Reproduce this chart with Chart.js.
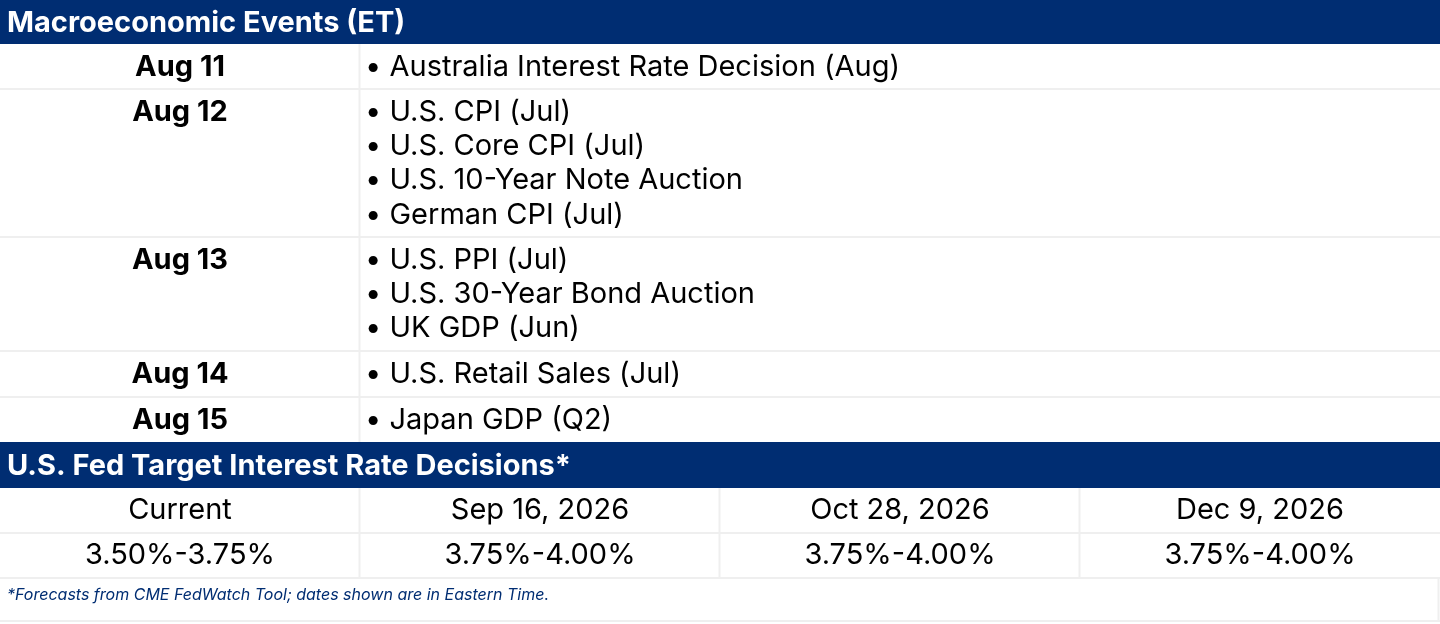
<!DOCTYPE html>
<html>
<head>
<meta charset="utf-8">
<script src="https://cdn.jsdelivr.net/npm/chart.js@4.4.1/dist/chart.umd.min.js"></script>
<style>
html,body{margin:0;padding:0;background:#fff;}
#wrap{width:1440px;height:624px;position:relative;}
</style>
</head>
<body>
<div id="wrap"><canvas id="c" width="1440" height="624"></canvas></div>
<script>
// ---- data ----
const sectionTitles = ["Macroeconomic Events (ET)", "U.S. Fed Target Interest Rate Decisions*"];
const eventDates = ["Aug 11", "Aug 12", "Aug 13", "Aug 14", "Aug 15"];
const eventLists = [
  ["Australia Interest Rate Decision (Aug)"],
  ["U.S. CPI (Jul)", "U.S. Core CPI (Jul)", "U.S. 10-Year Note Auction", "German CPI (Jul)"],
  ["U.S. PPI (Jul)", "U.S. 30-Year Bond Auction", "UK GDP (Jun)"],
  ["U.S. Retail Sales (Jul)"],
  ["Japan GDP (Q2)"]
];
const fedDates = ["Current", "Sep 16, 2026", "Oct 28, 2026", "Dec 9, 2026"];
const fedRates = ["3.50%-3.75%", "3.75%-4.00%", "3.75%-4.00%", "3.75%-4.00%"];
const footnote = "*Forecasts from CME FedWatch Tool; dates shown are in Eastern Time.";

const NAVY = "#002D72";
const GRID = "#efefef";
const FONT = "Inter, 'Noto Sans', sans-serif";

const tablePlugin = {
  id: 'tablePlugin',
  afterDraw(chart) {
    const ctx = chart.ctx;
    const xs = chart.scales.x, ys = chart.scales.y;
    const X = v => xs.getPixelForValue(v);
    const Y = v => ys.getPixelForValue(v);
    const W = chart.width;
    const lineH = 34.3;
    // layout: row heights (styling)
    const eventRowH = [45, 148, 114, 46, 45];
    ctx.save();
    ctx.textBaseline = 'middle';
    let y = 0;
    const text = (t, x, yy, font, color, align) => {
      ctx.fillStyle = color;
      ctx.font = font;
      ctx.textAlign = align;
      ctx.fillText(t, X(x), Y(yy));
    };
    const header = (t, h) => {
      ctx.fillStyle = NAVY;
      ctx.fillRect(0, Y(y), W, Y(y + h) - Y(y));
      text(t, 7, y + h / 2 + 1, "bold 29px " + FONT, '#fff', 'left');
      y += h;
    };
    const hline = (yy, x0, x1) => {
      ctx.fillStyle = GRID;
      ctx.fillRect(X(x0), Y(yy) - 1, X(x1) - X(x0), 2);
    };
    const vline = (xx, y0, y1) => {
      ctx.fillStyle = GRID;
      ctx.fillRect(X(xx) - 1, Y(y0), 2, Y(y1) - Y(y0));
    };
    header(sectionTitles[0], 44);
    eventDates.forEach((d, i) => {
      const h = eventRowH[i];
      const top = y;
      vline(359.5, top, top + h);
      text(d, 180, top + 23, "bold 29px " + FONT, '#000', 'center');
      eventLists[i].forEach((e, j) => {
        text("\u2022 " + e, 365, top + 23 + j * lineH, "29px " + FONT, '#000', 'left');
      });
      y += h;
      if (i < eventDates.length - 1) hline(y, 0, 1440);
    });
    header(sectionTitles[1], 46);
    const colW = 360;
    [fedDates, fedRates].forEach((arr) => {
      const top = y;
      arr.forEach((t, k) => {
        if (k > 0) vline(k * colW - 0.5, top, top + 45);
        text(t, k * colW + 180, top + 22.5, "29px " + FONT, '#000', 'center');
      });
      y += 45;
      hline(y, 0, 1440);
    });
    // footnote
    text(footnote, 7, y + 17, "italic 16px " + FONT, NAVY, 'left');
    vline(1438.5, y, y + 43);
    hline(y + 43, 0, 1440);
    ctx.restore();
  }
};

new Chart(document.getElementById('c'), {
  type: 'scatter',
  data: { datasets: [{ data: [], pointRadius: 0 }] },
  options: {
    responsive: false,
    animation: false,
    devicePixelRatio: 1,
    layout: { padding: 0 },
    plugins: { legend: { display: false }, tooltip: { enabled: false } },
    scales: {
      x: { type: 'linear', min: 0, max: 1440, display: false },
      y: { type: 'linear', min: 0, max: 624, reverse: true, display: false }
    }
  },
  plugins: [tablePlugin]
});
</script>
</body>
</html>
